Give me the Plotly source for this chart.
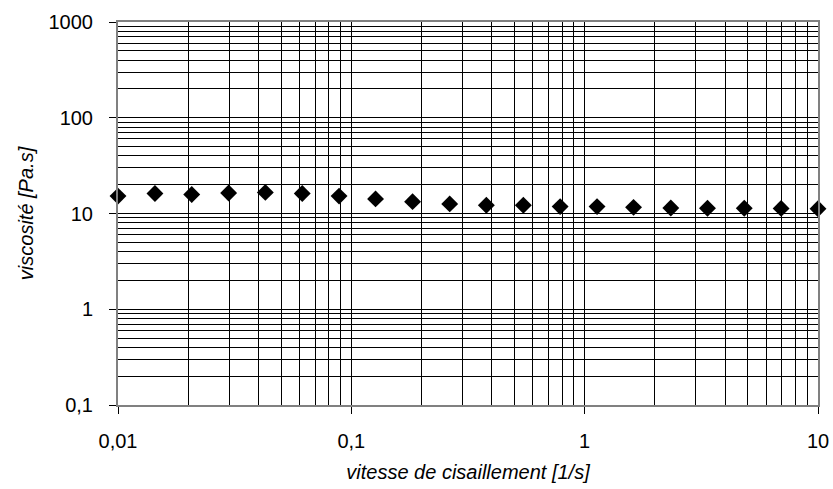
import plotly.graph_objects as go

# shear rate [1/s] and viscosity [Pa.s]
shear_rate = [0.01, 0.0144, 0.0207, 0.0298, 0.0428, 0.0616, 0.0886, 0.127, 0.183, 0.264,
              0.379, 0.546, 0.785, 1.13, 1.62, 2.34, 3.36, 4.83, 6.95, 10.0]
viscosity = [15.2, 16.2, 15.8, 16.4, 16.6, 16.2, 15.2, 14.2, 13.3, 12.6,
             12.2, 12.2, 11.8, 11.8, 11.6, 11.4, 11.35, 11.35, 11.3, 11.2]

x_major = [0.01, 0.1, 1, 10]
x_major_text = ["0,01", "0,1", "1", "10"]
y_major = [0.1, 1, 10, 100, 1000]
y_major_text = ["0,1", "1", "10", "100", "1000"]

x_minor = [m * d for d in (0.01, 0.1, 1) for m in range(2, 10)]
y_minor = [m * d for d in (0.1, 1, 10, 100) for m in range(2, 10)]

font = "Liberation Sans, Arial, sans-serif"

fig = go.Figure(
    go.Scatter(
        x=shear_rate, y=viscosity, mode="markers",
        marker=dict(symbol="diamond", size=13, color="black"),
        cliponaxis=False,
    )
)

axis_common = dict(
    type="log",
    automargin=False,
    showline=True, linecolor="#808080", linewidth=2, mirror=True,
    showgrid=True, gridcolor="black", gridwidth=1,
    ticks="outside", ticklen=7, tickcolor="black", tickwidth=1,
    tickfont=dict(family=font, size=20, color="black"),
    zeroline=False,
)

fig.update_xaxes(
    **axis_common,
    range=[-2, 1],
    tickvals=x_major, ticktext=x_major_text,
    minor=dict(tickvals=x_minor, showgrid=True, gridcolor="black", gridwidth=1, ticklen=0),
    ticklabelstandoff=10,
    title=dict(text="<i>vitesse de cisaillement [1/s]</i>",
               font=dict(family=font, size=20, color="black"), standoff=14),
)
fig.update_yaxes(
    **axis_common,
    range=[-1, 3],
    tickvals=y_major, ticktext=y_major_text,
    minor=dict(tickvals=y_minor, showgrid=True, gridcolor="black", gridwidth=1, ticklen=0),
    ticklabelstandoff=12,
    title=dict(text="<i>viscosité [Pa.s]</i>",
               font=dict(family=font, size=20, color="black"), standoff=10),
)

fig.update_layout(
    width=833, height=489,
    margin=dict(l=118, r=15, t=22, b=84),
    plot_bgcolor="white", paper_bgcolor="white",
    showlegend=False,
)

fig.write_html("out.html")
